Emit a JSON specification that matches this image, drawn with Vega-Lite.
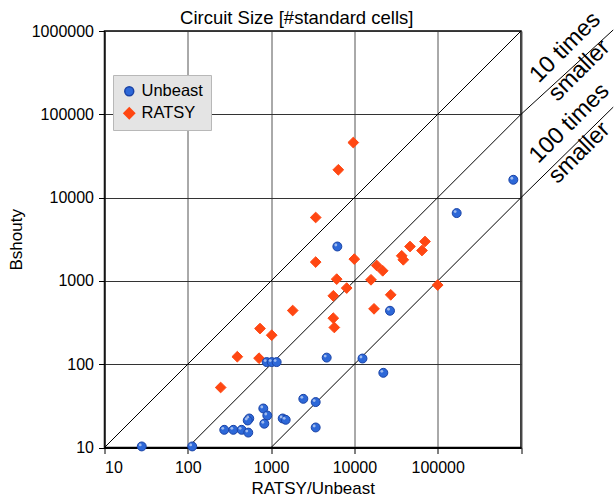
{
  "$schema": "https://vega.github.io/schema/vega-lite/v6.json",
  "autosize": {"type": "none"},
  "padding": {"left": 104.5, "top": 31, "right": 93.5, "bottom": 51},
  "width": 416.5,
  "height": 416.5,
  "title": {"text": "Circuit Size [#standard cells]", "fontSize": 18.5, "fontWeight": "normal", "font": "Liberation Sans", "color": "#000", "dx": -16, "offset": -20, "frame": "group"},
  "config": {
    "font": "Liberation Sans",
    "view": {"stroke": "#000", "strokeWidth": 1.5},
    "axis": {"labelFont": "Liberation Sans", "titleFont": "Liberation Sans", "labelColor": "#000", "titleColor": "#000", "titleFontWeight": "normal", "domainColor": "#000", "tickColor": "#000", "labelFontSize": 16, "titleFontSize": 17}
  },
  "datasets": {
    "pts": [
      {"solver": "RATSY", "x": 3430, "y": 5770},
      {"solver": "RATSY", "x": 3430, "y": 1683},
      {"solver": "RATSY", "x": 6130, "y": 1050},
      {"solver": "RATSY", "x": 8080, "y": 820},
      {"solver": "RATSY", "x": 5580, "y": 662},
      {"solver": "RATSY", "x": 5580, "y": 357},
      {"solver": "RATSY", "x": 5740, "y": 276},
      {"solver": "RATSY", "x": 1817, "y": 441},
      {"solver": "RATSY", "x": 736, "y": 268},
      {"solver": "RATSY", "x": 1017, "y": 223},
      {"solver": "RATSY", "x": 393, "y": 123},
      {"solver": "RATSY", "x": 716, "y": 118},
      {"solver": "RATSY", "x": 248, "y": 52.5},
      {"solver": "RATSY", "x": 9700, "y": 45800},
      {"solver": "RATSY", "x": 6410, "y": 21570},
      {"solver": "RATSY", "x": 9970, "y": 1827},
      {"solver": "RATSY", "x": 15820, "y": 1031},
      {"solver": "RATSY", "x": 18530, "y": 1531},
      {"solver": "RATSY", "x": 21870, "y": 1322},
      {"solver": "RATSY", "x": 27300, "y": 681},
      {"solver": "RATSY", "x": 17200, "y": 462},
      {"solver": "RATSY", "x": 36980, "y": 2001},
      {"solver": "RATSY", "x": 38650, "y": 1792},
      {"solver": "RATSY", "x": 46500, "y": 2588},
      {"solver": "RATSY", "x": 70400, "y": 2972},
      {"solver": "RATSY", "x": 64800, "y": 2317},
      {"solver": "RATSY", "x": 100000, "y": 891},
      {"solver": "Unbeast", "x": 6240, "y": 2588},
      {"solver": "Unbeast", "x": 4650, "y": 120},
      {"solver": "Unbeast", "x": 885, "y": 106},
      {"solver": "Unbeast", "x": 1017, "y": 106},
      {"solver": "Unbeast", "x": 1166, "y": 106},
      {"solver": "Unbeast", "x": 2436, "y": 38.4},
      {"solver": "Unbeast", "x": 3430, "y": 35.1},
      {"solver": "Unbeast", "x": 3430, "y": 17.4},
      {"solver": "Unbeast", "x": 806, "y": 29.4},
      {"solver": "Unbeast", "x": 900, "y": 24.2},
      {"solver": "Unbeast", "x": 829, "y": 19.3},
      {"solver": "Unbeast", "x": 1378, "y": 22.3},
      {"solver": "Unbeast", "x": 1497, "y": 21.5},
      {"solver": "Unbeast", "x": 547, "y": 22.3},
      {"solver": "Unbeast", "x": 524, "y": 21.1},
      {"solver": "Unbeast", "x": 274, "y": 16.3},
      {"solver": "Unbeast", "x": 352, "y": 16.3},
      {"solver": "Unbeast", "x": 443, "y": 16.3},
      {"solver": "Unbeast", "x": 532, "y": 15.1},
      {"solver": "Unbeast", "x": 28, "y": 10.3},
      {"solver": "Unbeast", "x": 113, "y": 10.3},
      {"solver": "Unbeast", "x": 169000, "y": 6516},
      {"solver": "Unbeast", "x": 26750, "y": 438},
      {"solver": "Unbeast", "x": 12500, "y": 117},
      {"solver": "Unbeast", "x": 22240, "y": 78.8},
      {"solver": "Unbeast", "x": 808800, "y": 16370}
    ],
    "lines": [
      {"line": "same", "x": 10, "y": 10},
      {"line": "same", "x": 1000000, "y": 1000000},
      {"line": "10x", "x": 100, "y": 10},
      {"line": "10x", "x": 1000000, "y": 100000},
      {"line": "10x", "x": 12800000, "y": 1030000},
      {"line": "100x", "x": 1000, "y": 10},
      {"line": "100x", "x": 1000000, "y": 10000},
      {"line": "100x", "x": 12800000, "y": 122000}
    ],
    "notes": [
      {"label": "10 times", "x": 3400000, "y": 637000},
      {"label": "smaller", "x": 5000000, "y": 336000},
      {"label": "100 times", "x": 3800000, "y": 78000},
      {"label": "smaller", "x": 5000000, "y": 34500}
    ]
  },
  "layer": [
    {
      "data": {"name": "lines"},
      "mark": {"type": "line", "color": "#000", "strokeWidth": 1, "clip": false},
      "encoding": {
        "x": {"field": "x", "type": "quantitative", "scale": {"type": "log", "domain": [10, 1000000], "nice": false}, "axis": {"title": "RATSY/Unbeast", "values": [10, 100, 1000, 10000, 100000, 1000000], "format": "d", "grid": true, "gridColor": "#555", "gridOpacity": 1, "tickSize": 6, "labelPadding": 6, "titlePadding": 5, "domainWidth": 2}},
        "y": {"field": "y", "type": "quantitative", "scale": {"type": "log", "domain": [10, 1000000], "nice": false}, "axis": {"title": "Bshouty", "values": [10, 100, 1000, 10000, 100000, 1000000], "format": "d", "grid": true, "gridColor": "#333", "gridOpacity": 1, "tickSize": 6, "labelPadding": 5, "titlePadding": 6}},
        "detail": {"field": "line"}
      }
    },
    {
      "data": {"name": "pts"},
      "mark": {"type": "point", "filled": true, "opacity": 1, "strokeWidth": 1, "clip": false},
      "encoding": {
        "x": {"field": "x", "type": "quantitative"},
        "y": {"field": "y", "type": "quantitative"},
        "color": {"field": "solver", "type": "nominal", "scale": {"domain": ["Unbeast", "RATSY"], "range": ["#2d68d8", "#ff4712"]}, "legend": {"title": null, "orient": "none", "legendX": 8.5, "legendY": 44, "fillColor": "#e4e4e4", "strokeColor": "#b8b8b8", "padding": 8, "labelFontSize": 16.5, "labelFont": "Liberation Sans", "labelColor": "#000", "symbolSize": 55, "rowPadding": 4}},
        "stroke": {"field": "solver", "type": "nominal", "scale": {"domain": ["Unbeast", "RATSY"], "range": ["#1a43a6", "#ff4712"]}, "legend": null},
        "shape": {"field": "solver", "type": "nominal", "scale": {"domain": ["Unbeast", "RATSY"], "range": ["circle", "diamond"]}},
        "size": {"field": "solver", "type": "nominal", "scale": {"domain": ["Unbeast", "RATSY"], "range": [80, 115]}, "legend": null}
      }
    },
    {
      "data": {"name": "pts"},
      "transform": [{"filter": "datum.solver === 'Unbeast'"}],
      "mark": {"type": "point", "filled": true, "color": "#ffffff", "opacity": 0.55, "size": 8, "xOffset": -1.5, "yOffset": -1.5, "clip": false},
      "encoding": {
        "x": {"field": "x", "type": "quantitative"},
        "y": {"field": "y", "type": "quantitative"}
      }
    },
    {
      "data": {"name": "notes"},
      "mark": {"type": "text", "fontSize": 23.5, "angle": -45, "align": "center", "baseline": "middle", "color": "#000", "clip": false},
      "encoding": {
        "x": {"field": "x", "type": "quantitative"},
        "y": {"field": "y", "type": "quantitative"},
        "text": {"field": "label"}
      }
    }
  ]
}
